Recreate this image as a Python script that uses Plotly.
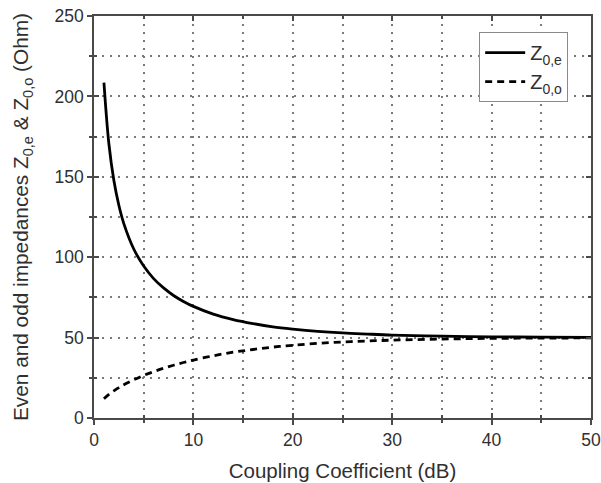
import plotly.graph_objects as go

# Coupling coefficient (dB)
coupling_db = [1, 1.5, 2, 2.5, 3, 4, 5, 6, 7, 8, 9, 10, 12, 14, 16, 18, 20,
               22.5, 25, 27.5, 30, 35, 40, 45, 50]
# Even-mode impedance Z0,e (Ohm)
z_even = [208.6, 170.4, 147.7, 132.3, 120.9, 105.1, 94.5, 86.7, 80.9, 76.2,
          72.5, 69.4, 64.6, 61.2, 58.7, 56.7, 55.3, 53.9, 52.9, 52.2, 51.6,
          50.9, 50.5, 50.3, 50.2]
# Odd-mode impedance Z0,o (Ohm)
z_odd = [12.0, 14.7, 16.9, 18.9, 20.7, 23.8, 26.5, 28.8, 30.9, 32.8, 34.5,
         36.0, 38.7, 40.9, 42.6, 44.1, 45.2, 46.4, 47.3, 47.9, 48.4, 49.1,
         49.5, 49.7, 49.8]

x_range = [0, 50]
y_range = [0, 250]
axis_col = "#4a4a4a"
grid_col = "#7a7a7a"
grid_dash = "2px,6px"
text_col = "#303030"
font_fam = "Liberation Sans, Arial, sans-serif"

fig = go.Figure()
fig.add_trace(go.Scatter(x=coupling_db, y=z_even, mode="lines", name="Z<sub>0,e</sub>",
                         line=dict(color="black", width=2.8, shape="spline")))
fig.add_trace(go.Scatter(x=coupling_db, y=z_odd, mode="lines", name="Z<sub>0,o</sub>",
                         line=dict(color="black", width=2.8, dash="7px,5px", shape="spline")))
# helper invisible traces for inside-tick overlay axes
fig.add_trace(go.Scatter(x=[None], y=[None], xaxis="x2", yaxis="y2", showlegend=False, hoverinfo="skip"))
fig.add_trace(go.Scatter(x=[None], y=[None], xaxis="x3", yaxis="y3", showlegend=False, hoverinfo="skip"))

grid_common = dict(showgrid=True, gridcolor=grid_col, gridwidth=1.5, griddash=grid_dash)

fig.update_layout(
    width=601, height=483,
    margin=dict(l=94, r=10, t=16, b=65),
    paper_bgcolor="white", plot_bgcolor="white",
    font=dict(family=font_fam, color=text_col, size=17.5),
    xaxis=dict(range=x_range, dtick=10, tick0=0, ticks="outside", ticklen=5, tickwidth=1.5,
               tickcolor=axis_col, showline=True, linecolor=axis_col, linewidth=1.5,
               zeroline=False, automargin=False, tickfont=dict(size=17.5, color=text_col),
               title=dict(text="Coupling Coefficient (dB)", font=dict(size=20.5), standoff=15),
               minor=dict(dtick=5, ticks="outside", ticklen=3, tickcolor=axis_col,
                          showgrid=True, gridcolor=grid_col, griddash=grid_dash, gridwidth=1.5),
               **grid_common),
    yaxis=dict(range=y_range, dtick=50, tick0=0, ticks="outside", ticklen=5, tickwidth=1.5,
               tickcolor=axis_col, showline=True, linecolor=axis_col, linewidth=1.5,
               zeroline=False, automargin=False, tickfont=dict(size=17.5, color=text_col),
               title=dict(text="Even and odd impedances Z<sub>0,e</sub> & Z<sub>0,o</sub> (Ohm)",
                          font=dict(size=20.8), standoff=20),
               minor=dict(dtick=25, ticks="outside", ticklen=3, tickcolor=axis_col,
                          showgrid=True, gridcolor=grid_col, griddash=grid_dash, gridwidth=1.5),
               **grid_common),
    xaxis2=dict(overlaying="x", side="bottom", range=x_range, dtick=10, tick0=0,
                ticks="inside", ticklen=5, tickwidth=1.5, tickcolor=axis_col, automargin=False,
                showticklabels=False, showgrid=False, zeroline=False, showline=False,
                minor=dict(dtick=5, ticks="inside", ticklen=3, tickcolor=axis_col)),
    yaxis2=dict(overlaying="y", side="left", range=y_range, dtick=50, tick0=0,
                ticks="inside", ticklen=5, tickwidth=1.5, tickcolor=axis_col, automargin=False,
                showticklabels=False, showgrid=False, zeroline=False, showline=False,
                minor=dict(dtick=25, ticks="inside", ticklen=3, tickcolor=axis_col)),
    xaxis3=dict(overlaying="x", side="top", range=x_range, dtick=10, tick0=0,
                ticks="inside", ticklen=5, tickwidth=1.5, tickcolor=axis_col, automargin=False,
                showticklabels=False, showgrid=False, zeroline=False,
                showline=True, linecolor=axis_col, linewidth=1.5,
                minor=dict(dtick=5, ticks="inside", ticklen=3, tickcolor=axis_col)),
    yaxis3=dict(overlaying="y", side="right", range=y_range, dtick=50, tick0=0,
                ticks="inside", ticklen=5, tickwidth=1.5, tickcolor=axis_col, automargin=False,
                showticklabels=False, showgrid=False, zeroline=False,
                showline=True, linecolor=axis_col, linewidth=1.5,
                minor=dict(dtick=25, ticks="inside", ticklen=3, tickcolor=axis_col)),
    legend=dict(x=0.775, y=0.96, xanchor="left", yanchor="top",
                bgcolor="white", bordercolor="#8a8a8a", borderwidth=1,
                font=dict(size=20, color=text_col), tracegroupgap=0, itemwidth=40),
    showlegend=True,
)

fig.write_html("out.html", config={"displayModeBar": False},
               post_script="document.body.style.margin='0px';")
